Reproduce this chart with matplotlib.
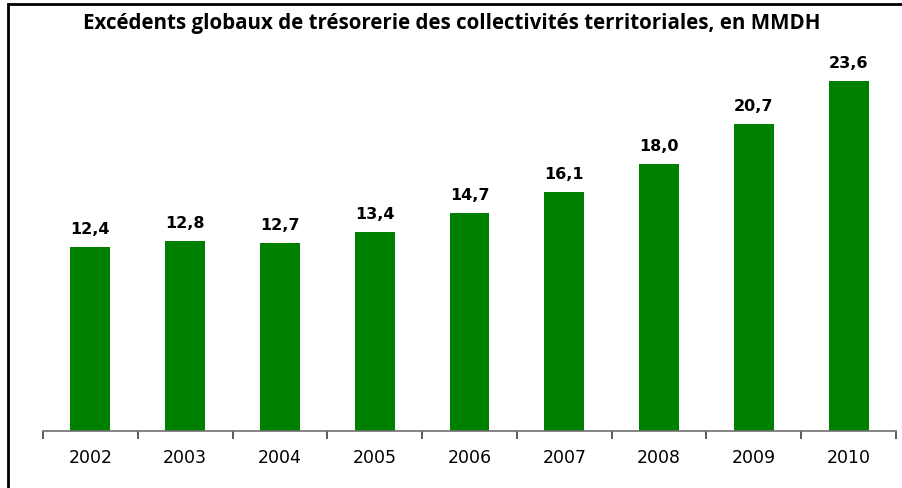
import matplotlib
matplotlib.use("Agg")
import matplotlib.pyplot as plt
from matplotlib.patches import Rectangle

years = ["2002", "2003", "2004", "2005", "2006", "2007", "2008", "2009", "2010"]
values = [12.4, 12.8, 12.7, 13.4, 14.7, 16.1, 18.0, 20.7, 23.6]
labels = ["12,4", "12,8", "12,7", "13,4", "14,7", "16,1", "18,0", "20,7", "23,6"]
title = "Excédents globaux de trésorerie des collectivités territoriales, en MMDH"

W, H = 903, 488
fig = plt.figure(figsize=(W / 100, H / 100), dpi=100)
ax = fig.add_axes([43 / W, (H - 431) / H, (896 - 43) / W, (431 - 60) / H])

x = list(range(len(years)))
ax.bar(x, values, width=0.42, color="#008000", zorder=2)
ax.set_xlim(-0.5, len(years) - 0.5)
ax.set_ylim(0, 25)

for xi, v, lab in zip(x, values, labels):
    ax.annotate(lab, (xi, v), xytext=(0, 7), textcoords="offset points",
                ha="center", va="bottom", fontsize=11.5, fontweight="bold",
                family="DejaVu Sans", color="black")

for s in ["top", "right", "left"]:
    ax.spines[s].set_visible(False)
ax.spines["bottom"].set_color("#707070")
ax.spines["bottom"].set_linewidth(1.2)
ax.set_yticks([])
ax.set_xticks([i - 0.5 for i in range(len(years) + 1)], minor=False)
ax.set_xticklabels([])
ax.tick_params(axis="x", which="major", length=6, color="#404040", width=1.2)
ax.set_xticks(x, minor=True)
ax.set_xticklabels(years, minor=True, fontsize=12.5, family="DejaVu Sans")
ax.tick_params(axis="x", which="minor", length=0, pad=13)

fig.text(0.5, (H - 23) / H, title, ha="center", va="center",
         fontsize=14.8, fontweight="bold", family="Open Sans")

fig.patches.append(Rectangle((8 / W, -0.1), 1.2, (H - 4) / H + 0.1,
                             transform=fig.transFigure, fill=False,
                             edgecolor="black", linewidth=2))

fig.savefig("out.png", dpi=100)
